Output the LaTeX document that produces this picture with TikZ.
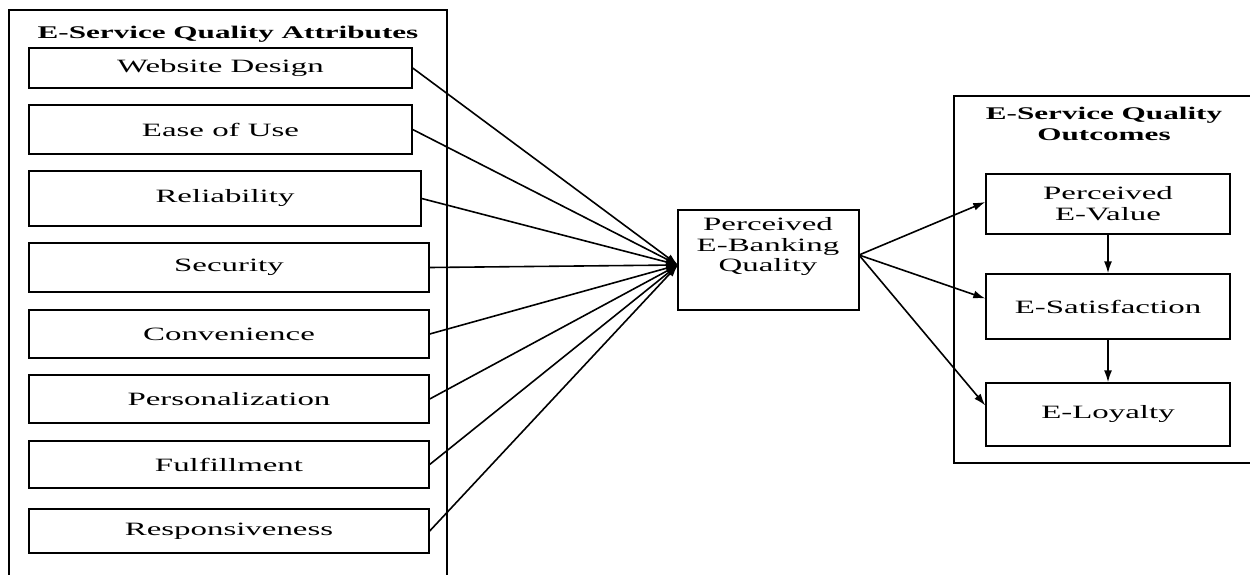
\documentclass[tikz,border=0pt]{standalone}
\usepackage{fontspec}
\setmainfont{Liberation Serif}[FakeStretch=1.75]
\usetikzlibrary{arrows.meta}
\tikzset{
  x=1pt, y=-1pt,
  attr/.style={draw, line width=1.4pt, inner sep=0pt, align=center,
    font=\fontsize{18.8}{21}\selectfont},
  txt/.style={inner sep=0pt, align=center, font=\fontsize{18.8}{20.5}\selectfont},
  grp/.style={draw, line width=1.4pt},
  ttl/.style={font=\bfseries\fontsize{17.8}{21.5}\selectfont, align=center, inner sep=0pt},
  conn/.style={draw, line width=1.6pt, -{Latex[length=12pt,width=8pt]}},
}
\begin{document}
\begin{tikzpicture}
\useasboundingbox (0,0) rectangle (1250,575);
% group frames
\draw[grp] (9,585) -- (9,10) -- (447,10) -- (447,585);
\draw[grp] (1260,96) -- (954,96) -- (954,463) -- (1260,463);
\node[ttl] (t1) at (228,34) {E-Service Quality Attributes};
\node[ttl] (t2) at (1104,124) {E-Service Quality\\Outcomes};
% attribute boxes
\node[attr, minimum width=383pt, minimum height=40pt] (wd)  at (220.5,68)  {Website Design};
\node[attr, minimum width=383pt, minimum height=49pt] (eou) at (220.5,129.5) {Ease of Use};
\node[attr, minimum width=392pt, minimum height=55pt] (rel) at (225,198.5) {Reliability};
\node[attr, minimum width=400pt, minimum height=49pt] (sec) at (229,267.5) {Security};
\node[attr, minimum width=400pt, minimum height=48pt] (con) at (229,334)   {Convenience};
\node[attr, minimum width=400pt, minimum height=48pt] (per) at (229,399) {Personalization};
\node[attr, minimum width=400pt, minimum height=47pt] (ful) at (229,464.5) {Fulfillment};
\node[attr, minimum width=400pt, minimum height=44pt] (res) at (229,531)   {Responsiveness};
% central box
\node[attr, minimum width=181pt, minimum height=100pt] (pbq) at (768.5,260) {};
\node[txt] (pbqt) at (768,247) {Perceived\\E-Banking\\Quality};
\coordinate (hub) at (678,265);
\coordinate (out) at (859,255);
% outcome boxes
\node[attr, minimum width=244pt, minimum height=60pt] (pev)  at (1108,204)   {Perceived\\E-Value};
\node[attr, minimum width=244pt, minimum height=65pt] (esat) at (1108,306.5) {E-Satisfaction};
\node[attr, minimum width=244pt, minimum height=63pt] (eloy) at (1108,414.5) {E-Loyalty};
% connectors
\foreach \s in {wd,eou,rel,sec,con,per,ful,res}
  \draw[conn] (\s.east) -- (hub);
\draw[conn] (out) -- ([yshift=2pt]pev.west);
\draw[conn] (out) -- ([yshift=8pt]esat.west);
\draw[conn] (out) -- ([yshift=9pt]eloy.west);
\draw[conn] (pev.south) -- (esat.north);
\draw[conn] (esat.south) -- (eloy.north);
\end{tikzpicture}
\end{document}
